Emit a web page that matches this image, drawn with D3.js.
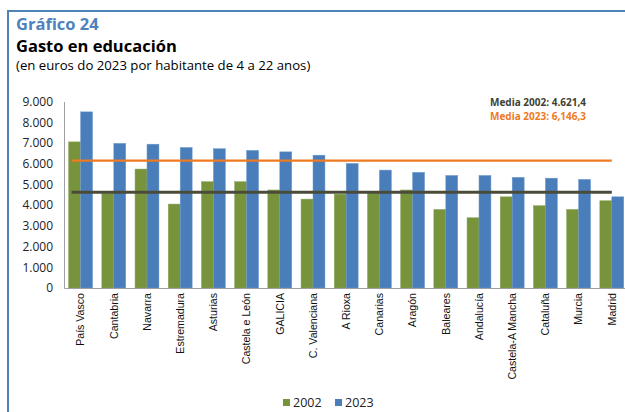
<!DOCTYPE html>
<html><head><meta charset="utf-8">
<script src="https://cdn.jsdelivr.net/npm/d3@7"></script>
<style>body{margin:0;background:#fff}svg{display:block}</style>
</head><body>
<svg id="c" width="625" height="412"></svg>
<script>
const categories = ["País Vasco","Cantabria","Navarra","Estremadura","Asturias","Castela e León","GALICIA","C. Valenciana","A Rioxa","Canarias","Aragón","Baleares","Andalucía","Castela-A Mancha","Cataluña","Murcia","Madrid"];
const values2002 = [7050,4570,5740,4050,5130,5130,4730,4290,4530,4600,4730,3790,3390,4400,3970,3790,4210];
const values2023 = [8500,6980,6940,6780,6720,6640,6570,6410,6010,5690,5580,5430,5430,5340,5300,5240,4400];
const series = ["2002","2023"];
const means = [4621.4, 6146.3];
const meanLabels = ["Media 2002: 4.621,4","Media 2023: 6,146,3"];
const yTicks = [0,1000,2000,3000,4000,5000,6000,7000,8000,9000];
const colors = ["#77933c","#4a7ebb"];
const meanColors = ["#4b4b3a","#ee7a22"];

const svg = d3.select("#c");
const font = "'Open Sans', sans-serif";

// frame
svg.append("line").attr("x1",8).attr("x2",625).attr("y1",11).attr("y2",11).attr("stroke","#4f81bd").attr("stroke-width",2);
svg.append("line").attr("x1",8).attr("x2",8).attr("y1",10).attr("y2",412).attr("stroke","#4f81bd").attr("stroke-width",2);

// titles
svg.append("text").attr("x",16).attr("y",29.5).text("Gráfico 24").attr("font-family",font).attr("font-weight",700).attr("font-size",16.5).attr("fill","#4f81bd");
svg.append("text").attr("x",16).attr("y",52).text("Gasto en educación").attr("font-family",font).attr("font-weight",700).attr("font-size",16.5).attr("fill","#000");
svg.append("text").attr("x",16).attr("y",70).text("(en euros do 2023 por habitante de 4 a 22 anos)").attr("font-family",font).attr("font-size",13.2).attr("fill","#000");

const x = d3.scaleBand().domain(categories).range([64,628.4]).paddingInner(0.28).paddingOuter(0.14);
const xs = d3.scaleBand().domain(series).range([0,x.bandwidth()]);
const y = d3.scaleLinear().domain([0,9000]).range([288,101.5]);

// y axis
const yAxis = svg.append("g").attr("transform","translate(64,0)")
  .call(d3.axisLeft(y).tickValues(yTicks).tickSize(0).tickPadding(11).tickFormat(d => d3.format(",")(d).replace(/,/g,".")));
yAxis.select(".domain").attr("stroke","#a0a0a0");
yAxis.selectAll("text").attr("font-family","'Open Sans', sans-serif").attr("font-size",12).attr("fill","#222");

// bars
const data = categories.map((c,i)=>({c, v:[values2002[i],values2023[i]]}));
const g = svg.append("g");
data.forEach(d=>{
  series.forEach((s,j)=>{
    g.append("rect").attr("x",x(d.c)+xs(s)).attr("width",xs.bandwidth())
     .attr("y",y(d.v[j])).attr("height",y(0)-y(d.v[j]))
     .attr("fill",colors[j]).attr("stroke", j===1?"#6f9ad0":"#8aa65a").attr("stroke-width",0.5);
  });
});

// x axis
const xAxis = svg.append("g").attr("transform","translate(0,288)")
  .call(d3.axisBottom(x).tickSize(0).tickPadding(6));
xAxis.select(".domain").attr("stroke","#a0a0a0");
xAxis.selectAll("text").attr("font-family","'Liberation Sans', Arial, sans-serif").attr("font-size",10.6).attr("fill","#111")
  .attr("transform","rotate(-90)").attr("text-anchor","end").attr("dx","-5").attr("dy","0.35em").attr("y",0).attr("x",0);

// mean lines
const c0 = x(categories[0]) + x.bandwidth()/2;
const c1 = x(categories[categories.length-1]) + x.bandwidth()/2;
means.forEach((m,i)=>{
  svg.append("line").attr("x1",c0-9).attr("x2",c1).attr("y1",y(m)).attr("y2",y(m))
    .attr("stroke",meanColors[i]).attr("stroke-width", i===0?3:2.2);
});
meanLabels.forEach((t,i)=>{
  svg.append("text").attr("x",490).attr("y",106+i*14).text(t).attr("font-family","'Open Sans', sans-serif")
    .attr("font-weight",700).attr("font-size",10).attr("fill",i===0?"#3f3f33":meanColors[i]);
});

// legend
const lg = svg.append("g");
[[283,"2002"],[335,"2023"]].forEach(([lx,t],i)=>{
  lg.append("rect").attr("x",lx).attr("y",399).attr("width",7).attr("height",7).attr("fill",colors[i]);
  lg.append("text").attr("x",lx+10).attr("y",407).text(series[i]).attr("font-family",font).attr("font-size",12.5).attr("fill","#222");
});
</script>
</body></html>
